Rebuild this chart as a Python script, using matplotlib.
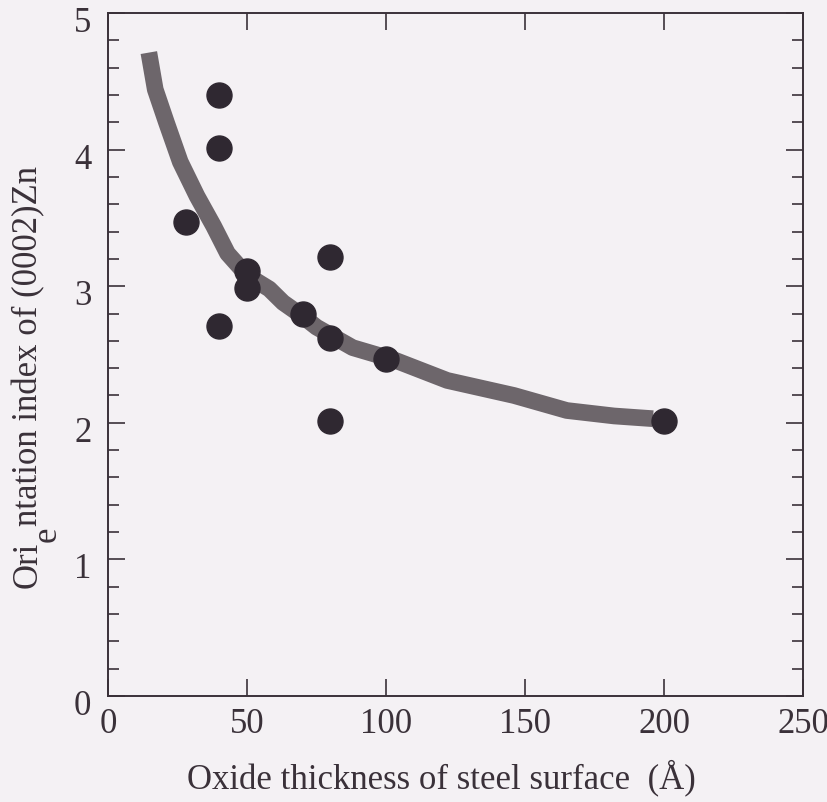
import numpy as np
import matplotlib
matplotlib.use('Agg')
import matplotlib.pyplot as plt
from matplotlib.ticker import MultipleLocator
import matplotlib.transforms as mtransforms

# measured points (oxide thickness in A, orientation index)
thick_pts = [40, 40, 28, 50, 50, 40, 80, 70, 80, 100, 80, 200]
index_pts = [4.40, 4.01, 3.47, 3.11, 2.99, 2.71, 3.21, 2.80, 2.62, 2.47, 2.01, 2.01]

# hand drawn trend band
curve_x = [14.7, 17, 21, 26, 32, 38, 43, 50, 58, 63, 70, 75, 88, 103, 122, 146, 165, 182, 196]
curve_y = [4.71, 4.44, 4.20, 3.91, 3.66, 3.44, 3.24, 3.08, 2.98, 2.88, 2.78, 2.70, 2.55, 2.46, 2.31, 2.20, 2.09, 2.05, 2.03]

xticks = [0, 50, 100, 150, 200, 250]
yticks = [0, 1, 2, 3, 4, 5]

ink = '#3a3139'
bg = '#f4f1f4'

plt.rcParams['font.family'] = ['Liberation Serif', 'DejaVu Serif']

fig = plt.figure(figsize=(8.28, 8.03), dpi=100, facecolor=bg)
ax = fig.add_axes([0.1304, 0.132, 0.8396, 0.8506], facecolor=bg)

ax.plot(curve_x, curve_y, color='#6d666b', linewidth=12, solid_capstyle='butt', solid_joinstyle='round', zorder=2)
ax.plot(thick_pts, index_pts, 'o', color='#2f2831', markersize=18, zorder=3)

ax.set_xlim(0, 250)
ax.set_ylim(0, 5)
ax.set_xticks(xticks)
ax.set_yticks(yticks)
ax.yaxis.set_minor_locator(MultipleLocator(0.2))

for s in ax.spines.values():
	s.set_color(ink)
	s.set_linewidth(1.4)

ax.tick_params(axis='both', which='major', direction='in', length=12, width=1.2, color=ink,
			   labelsize=25, labelcolor=ink, top=True, right=True)
ax.tick_params(axis='y', which='minor', direction='in', length=8, width=1.2, color=ink, right=True)
ax.tick_params(axis='x', pad=8)
ax.tick_params(axis='y', pad=12)

# y tick labels sit a little low in the original
shift = mtransforms.ScaledTranslation(0, -4 / 72, fig.dpi_scale_trans)
for lbl in ax.get_yticklabels():
	lbl.set_transform(lbl.get_transform() + shift)

ax.set_xlabel('Oxide thickness of steel surface  (Å)', fontsize=25, color=ink, labelpad=13)
ax.xaxis.label.set_x(0.48)

# y label with the stray full size "e" dropped below the line
t1 = fig.text(0.034, 0.268, 'Ori', rotation=90, ha='center', va='bottom', fontsize=25, color=ink)
t2 = ax.annotate('e', xy=(0.5, 1), xycoords=t1, xytext=(14, 0), textcoords='offset points',
				 rotation=90, ha='center', va='bottom', fontsize=25, color=ink, annotation_clip=False)
t3 = ax.annotate('ntation index of (0002)Zn', xy=(0, 1), xycoords=(t1, t2), rotation=90,
				 ha='left', va='bottom', fontsize=25, color=ink, annotation_clip=False)

plt.savefig('out.png', dpi=100, facecolor=bg)
